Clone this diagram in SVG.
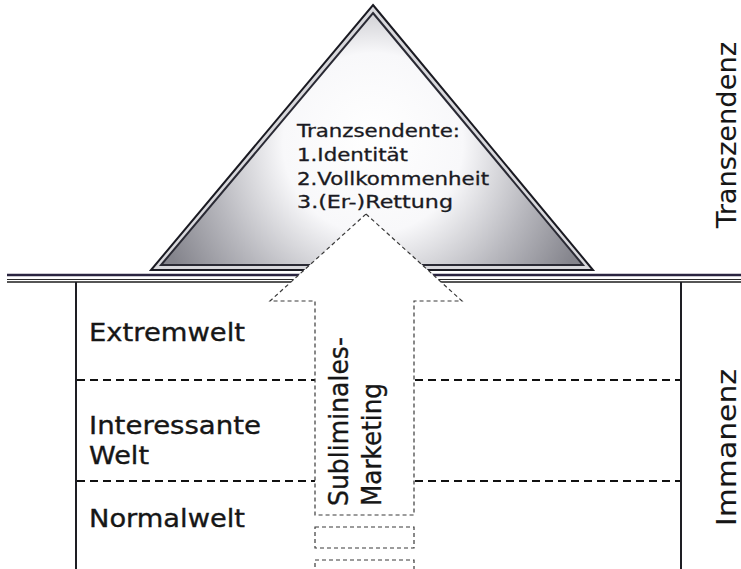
<svg xmlns="http://www.w3.org/2000/svg" width="741" height="569" viewBox="0 0 741 569">
  <style>
    text { font-family: "DejaVu Sans", Verdana, sans-serif; fill: #161616; stroke: #161616; stroke-width: 0.35; }
    .lbl { font-size: 24px; }
    .arr { font-size: 27px; }
    .side { font-size: 26px; stroke-width: 0.1; }
    .tri-txt { font-size: 17px; fill: #1a1a22; stroke: #1a1a22; stroke-width: 0.3; }
    .frame { stroke: #1e1e24; stroke-width: 2; fill: none; }
    .level { stroke: #111; stroke-width: 2; stroke-dasharray: 8 5; fill: none; }
    .flow { stroke: #3a3a3a; stroke-width: 1.2; stroke-dasharray: 4 3; fill: #fff; }
  </style>
  <defs>
    <radialGradient id="metal" gradientUnits="userSpaceOnUse" cx="373" cy="155" r="225" fx="373" fy="135">
      <stop offset="0" stop-color="#ffffff"/>
      <stop offset="0.4" stop-color="#f8f8fa"/>
      <stop offset="0.72" stop-color="#b8b8be"/>
      <stop offset="1" stop-color="#84848c"/>
    </radialGradient>
  </defs>

  <rect width="741" height="569" fill="#fff"/>

  <!-- transcendence triangle -->
  <g id="triangle">
    <polygon points="373,5 593,270 151,270" fill="#d8d8dc" stroke="#1a1a22" stroke-width="2"/>
    <polygon points="373,13 583,265 161,265" fill="url(#metal)" stroke="#2a2a34" stroke-width="2"/>
    <text class="tri-txt" x="297" y="137" textLength="163" lengthAdjust="spacingAndGlyphs">Tranzsendente:</text>
    <text class="tri-txt" x="297" y="161" textLength="111" lengthAdjust="spacingAndGlyphs">1.Identität</text>
    <text class="tri-txt" x="297" y="185" textLength="192" lengthAdjust="spacingAndGlyphs">2.Vollkommenheit</text>
    <text class="tri-txt" x="297" y="208" textLength="156" lengthAdjust="spacingAndGlyphs">3.(Er-)Rettung</text>
  </g>

  <!-- boundary between transcendence and immanence -->
  <g id="boundary">
    <line x1="7" y1="275" x2="741" y2="275" stroke="#2a2440" stroke-width="2.5"/>
    <line x1="7" y1="279.5" x2="741" y2="279.5" stroke="#2a2a2a" stroke-width="1"/>
    <line x1="7" y1="282" x2="741" y2="282" stroke="#1e1e1e" stroke-width="1.5"/>
  </g>

  <!-- immanence frame and levels -->
  <g id="immanence">
    <line class="frame" x1="76" y1="282" x2="76" y2="569"/>
    <line class="frame" x1="681" y1="282" x2="681" y2="569"/>
    <line class="level" x1="77" y1="380" x2="680" y2="380"/>
    <line class="level" x1="77" y1="481" x2="680" y2="481"/>
  </g>

  <g id="extremwelt">
    <text class="lbl" x="89" y="341" textLength="156" lengthAdjust="spacingAndGlyphs">Extremwelt</text>
  </g>
  <g id="interessante-welt">
    <text class="lbl" x="89" y="434" textLength="172" lengthAdjust="spacingAndGlyphs">Interessante</text>
    <text class="lbl" x="89" y="464" textLength="60" lengthAdjust="spacingAndGlyphs">Welt</text>
  </g>
  <g id="normalwelt">
    <text class="lbl" x="89" y="527" textLength="156" lengthAdjust="spacingAndGlyphs">Normalwelt</text>
  </g>

  <!-- upward arrow -->
  <g id="connectors">
    <polygon class="flow" points="366,214 462,301 414,301 414,515 315,515 315,301 270,301"/>
    <rect class="flow" x="315" y="527" width="99" height="21"/>
    <rect class="flow" x="315" y="560" width="99" height="20"/>
  </g>
  <g id="subliminal-marketing">
    <text class="arr" transform="translate(348,506) rotate(-90)" textLength="169" lengthAdjust="spacingAndGlyphs">Subliminales-</text>
    <text class="arr" transform="translate(381,506) rotate(-90)" textLength="123" lengthAdjust="spacingAndGlyphs">Marketing</text>
  </g>

  <!-- side labels -->
  <g id="transzendenz">
    <text class="side" transform="translate(736,228) rotate(-90)" textLength="186" lengthAdjust="spacingAndGlyphs">Transzendenz</text>
  </g>
  <g id="immanenz">
    <text class="side" transform="translate(736,526) rotate(-90)" textLength="157" lengthAdjust="spacingAndGlyphs">Immanenz</text>
  </g>
</svg>
